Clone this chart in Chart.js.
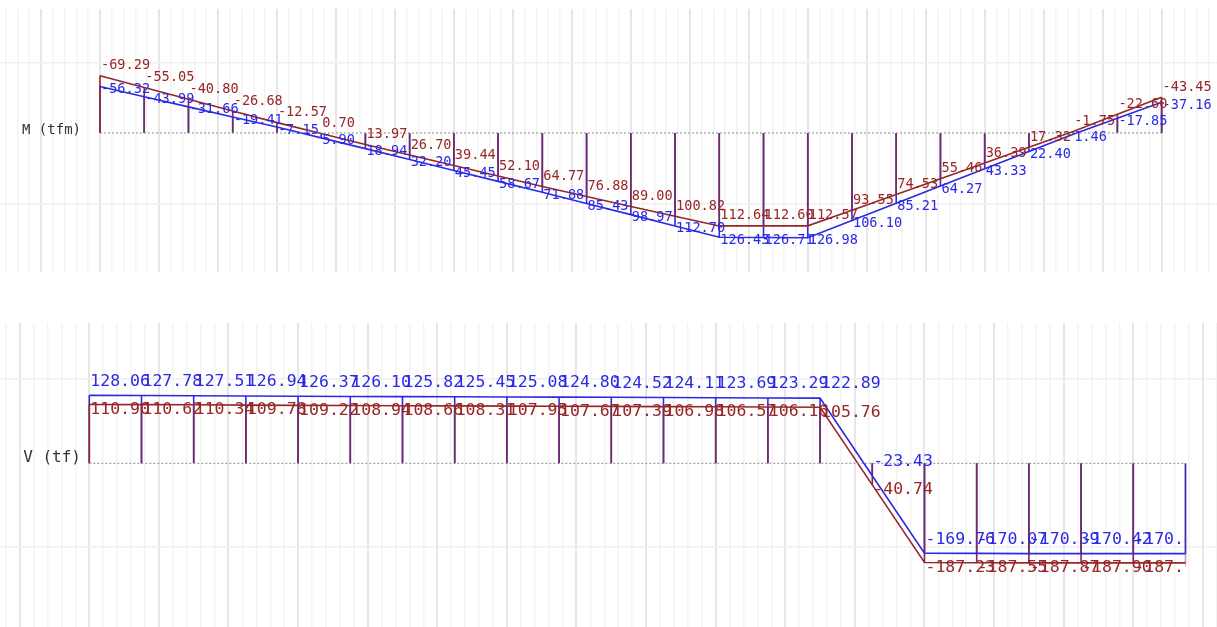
<!DOCTYPE html>
<html>
<head>
<meta charset="utf-8">
<script src="https://cdn.jsdelivr.net/npm/chart.js@4.4.1/dist/chart.umd.min.js"></script>
<style>
  body { margin: 0; background: #fff; width: 1217px; height: 627px; overflow: hidden; position: relative; }
  canvas { position: absolute; left: 0; }
</style>
</head>
<body>
<canvas id="chartM" width="1217" height="263" style="top:9px"></canvas>
<canvas id="chartV" width="1217" height="304" style="top:323px"></canvas>
<script>
// Diagramas de momento (M) y cortante (V) por estación, cada 0.75 m
const STEP = 0.75;

// Momento M (tfm)
const mRed = [-69.29, -55.05, -40.80, -26.68, -12.57, 0.70, 13.97, 26.70, 39.44, 52.10, 64.77, 76.88, 89.00,
  100.82, 112.64, 112.60, 112.57, 93.55, 74.53, 55.46, 36.39, 17.32, -1.75, -22.60, -43.45];
const mBlue = [-56.32, -43.99, -31.66, -19.41, -7.15, 5.90, 18.94, 32.20, 45.45, 58.67, 71.88, 85.43, 98.97,
  112.70, 126.43, 126.71, 126.98, 106.10, 85.21, 64.27, 43.33, 22.40, 1.46, -17.85, -37.16];

// Cortante V (tf)
const vBlue = [128.06, 127.78, 127.51, 126.94, 126.37, 126.10, 125.82, 125.45, 125.08, 124.80, 124.52, 124.11,
  123.69, 123.29, 122.89, -23.43, -169.76, -170.07, -170.39, -170.42, -170.45, -170.48];
const vRed = [110.90, 110.62, 110.34, 109.78, 109.22, 108.94, 108.66, 108.31, 107.95, 107.67, 107.39, 106.98,
  106.57, 106.16, 105.76, -40.74, -187.23, -187.55, -187.87, -187.90, -187.93, -187.96];

// Líneas de rejilla horizontales
const mGrid = [-85, 86];
const vGrid = [-158, 159];

const RED = '#982626';
const BLUE = '#2a2ae6';
const PURPLE = '#78285a';
const FONT = "'DejaVu Sans Mono', monospace";

function buildPanel(canvas, cfg) {
  const toPoints = arr => arr.map((v, i) => ({ x: i * STEP, y: v }));
  const span = (cfg.red.length - 1) * STEP;
  const last = cfg.red.length - 1;
  const isMajor = v => Math.abs(v - Math.round(v)) < 1e-6;

  const stationPlugin = {
    id: 'estaciones',
    beforeDatasetsDraw(chart) {
      const { ctx, scales: { x, y } } = chart;
      const y0 = y.getPixelForValue(0);
      ctx.save();
      ctx.lineWidth = 1.6;
      cfg.blue.forEach((v, i) => {
        const px = x.getPixelForValue(i * STEP);
        ctx.strokeStyle = BLUE;
        ctx.beginPath(); ctx.moveTo(px, y0); ctx.lineTo(px, y.getPixelForValue(v)); ctx.stroke();
      });
      cfg.red.forEach((v, i) => {
        const px = x.getPixelForValue(i * STEP);
        ctx.strokeStyle = i === 0 ? RED : PURPLE;
        ctx.globalAlpha = (cfg.fadeLast && i === last) ? 0.45 : 1;
        ctx.beginPath(); ctx.moveTo(px, y0); ctx.lineTo(px, y.getPixelForValue(v)); ctx.stroke();
      });
      ctx.restore();
    },
    afterDatasetsDraw(chart) {
      const { ctx, scales: { x, y } } = chart;
      ctx.save();
      ctx.fillStyle = '#333';
      ctx.font = cfg.nameFont + 'px ' + FONT;
      ctx.textAlign = 'right';
      ctx.textBaseline = 'middle';
      ctx.fillText(cfg.name, 81, y.getPixelForValue(0) + cfg.nameDy);

      if (cfg.clipLast) {
        ctx.beginPath();
        ctx.rect(0, 0, x.getPixelForValue(span), chart.height);
        ctx.clip();
      }
      ctx.font = cfg.labelFont + 'px ' + FONT;
      ctx.textAlign = 'left';
      const drawLabels = (arr, color, dy) => {
        ctx.fillStyle = color;
        arr.forEach((v, i) => {
          if (cfg.clipLast && i === last) return;
          ctx.fillText(v.toFixed(2), x.getPixelForValue(i * STEP) + 1, y.getPixelForValue(v) + dy);
        });
      };
      drawLabels(cfg.blue, BLUE, cfg.blueDy);
      drawLabels(cfg.red, RED, cfg.redDy);
      ctx.restore();
    }
  };

  return new Chart(canvas, {
    type: 'line',
    data: {
      datasets: [
        { data: [{ x: 0, y: 0 }, { x: span, y: 0 }], borderColor: '#8c8c8c', borderWidth: 1, borderDash: [2, 2] },
        { data: toPoints(cfg.blue), borderColor: BLUE, borderWidth: 1.6 },
        { data: toPoints(cfg.red), borderColor: RED, borderWidth: 1.6 }
      ]
    },
    options: {
      responsive: false,
      animation: false,
      events: [],
      layout: { padding: 0 },
      elements: { point: { radius: 0 }, line: { tension: 0 } },
      plugins: { legend: { display: false }, tooltip: { enabled: false } },
      scales: {
        x: {
          type: 'linear', min: cfg.xMin, max: cfg.xMax,
          border: { display: false },
          ticks: { display: false, autoSkip: false },
          grid: {
            drawTicks: false,
            color: c => isMajor(c.tick.value) ? '#e6e6e6' : '#f3f3f3',
            lineWidth: c => isMajor(c.tick.value) ? 2 : 1.5
          },
          afterBuildTicks: s => {
            const ticks = [];
            for (let k = Math.ceil(s.min * 5); k <= Math.floor(s.max * 5); k++) ticks.push({ value: k / 5 });
            s.ticks = ticks;
          },
          afterFit: s => { s.height = 0; }
        },
        y: {
          type: 'linear', min: cfg.yMin, max: cfg.yMax, reverse: cfg.reverse,
          border: { display: false },
          ticks: { display: false },
          grid: { drawTicks: false, color: '#efefef', lineWidth: 1.5 },
          afterBuildTicks: s => { s.ticks = cfg.grid.map(v => ({ value: v })); },
          afterFit: s => { s.width = 0; }
        }
      }
    },
    plugins: [stationPlugin]
  });
}

buildPanel(document.getElementById('chartM'), {
  red: mRed, blue: mBlue, grid: mGrid,
  name: 'M (tfm)', nameFont: 14, nameDy: -3,
  labelFont: 13.6, redDy: -10, blueDy: 3,
  xMin: -1.6955, xMax: 18.939,
  yMin: -150.3, yMax: 168.5, reverse: true,
  clipLast: false, fadeLast: false
});

buildPanel(document.getElementById('chartV'), {
  red: vRed, blue: vBlue, grid: vGrid,
  name: 'V (tf)', nameFont: 16, nameDy: -5,
  labelFont: 16.5, redDy: 5, blueDy: -14,
  xMin: -1.283, xMax: 16.203,
  yMin: -308.9, yMax: 264.7, reverse: false,
  clipLast: true, fadeLast: true
});
</script>
</body>
</html>
